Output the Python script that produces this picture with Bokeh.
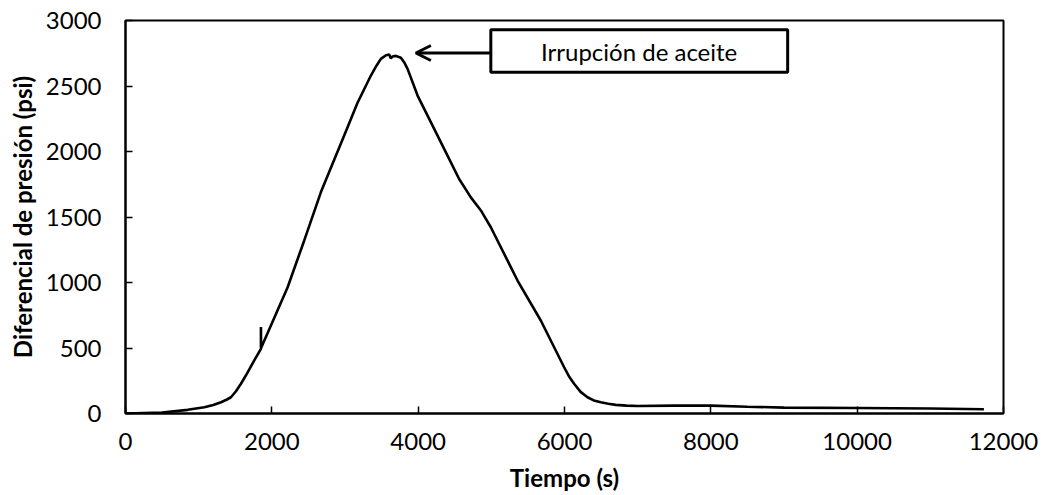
from bokeh.plotting import figure
from bokeh.models import Range1d, SingleIntervalTicker, Arrow, OpenHead, Label, BoxAnnotation
from bokeh.embed import file_html
from bokeh.resources import INLINE

# Data
time_s = [0, 500, 850, 1077, 1200, 1305, 1380, 1441, 1510, 1578, 1660, 1760, 1851, 1851, 1853,
          2216, 2443, 2671, 2989, 3170, 3354, 3430, 3490, 3560, 3604, 3625, 3650, 3695, 3764,
          3810, 3855, 3992, 4219, 4401, 4560, 4720, 4857, 4993, 5358, 5676, 5995, 6060, 6131,
          6220, 6314, 6400, 6496, 6600, 6700, 6850, 7000, 7500, 8000, 8500, 9000, 10000,
          11000, 11732]
pressure_psi = [0, 8, 28, 48, 65, 86, 105, 124, 170, 227, 305, 405, 494, 660, 500,
                964, 1321, 1690, 2122, 2370, 2580, 2655, 2707, 2735, 2740, 2712, 2725, 2730, 2715,
                2680, 2631, 2427, 2173, 1969, 1790, 1650, 1550, 1422, 1015, 710, 353, 285, 227,
                165, 124, 100, 86, 75, 66, 60, 57, 60, 60, 52, 45, 42, 38, 33]

annotation_text = "Irrupción de aceite"
x_label = "Tiempo (s)"
y_label = "Diferencial de presión (psi)"

FONT = "Lato"

p = figure(width=1041, height=495, output_backend="svg", toolbar_location=None,
           x_range=Range1d(0, 12000), y_range=Range1d(0, 3000))
p.min_border_left = 125
p.min_border_right = 38
p.min_border_top = 20
p.min_border_bottom = 82
p.background_fill_color = "white"
p.border_fill_color = "white"
p.outline_line_color = "black"
p.outline_line_width = 2
p.outline_line_alpha = 1.0
p.xgrid.visible = False
p.ygrid.visible = False

p.xaxis.ticker = SingleIntervalTicker(interval=2000)
p.yaxis.ticker = SingleIntervalTicker(interval=500)
for ax in (p.xaxis[0], p.yaxis[0]):
    ax.axis_line_color = "black"
    ax.axis_line_width = 2
    ax.major_tick_line_color = "black"
    ax.major_tick_line_width = 1.5
    ax.major_tick_in = 7
    ax.major_tick_out = 0
    ax.minor_tick_line_color = None
    ax.major_label_text_font = FONT
    ax.major_label_text_font_size = "24px"
    ax.major_label_text_color = "black"
    ax.axis_label_text_font = FONT
    ax.axis_label_text_font_style = "bold"
    ax.axis_label_text_font_size = "24px"
    ax.axis_label_text_color = "black"

p.xaxis.axis_label = x_label
p.yaxis.axis_label = y_label
p.xaxis.major_label_standoff = 15
p.yaxis.major_label_standoff = 20
p.xaxis.axis_label_standoff = 10
p.yaxis.axis_label_standoff = 6

p.line(time_s, pressure_psi, line_color="black", line_width=2.6)

# Annotation box, text and arrow
box = BoxAnnotation(left=4993, right=9050, bottom=2605, top=2929,
                    fill_color="white", fill_alpha=1.0,
                    line_color="black", line_alpha=1.0, line_width=3)
p.add_layout(box)
p.add_layout(Label(x=7020, y=2767, text=annotation_text, text_font=FONT,
                   text_font_size="24px", text_color="black",
                   text_align="center", text_baseline="middle"))
p.add_layout(Arrow(end=OpenHead(size=15, line_width=3, line_color="black"),
                   x_start=4993, y_start=2752, x_end=3969, y_end=2752,
                   line_color="black", line_width=3))

open("out.html", "w").write(file_html(p, INLINE))
